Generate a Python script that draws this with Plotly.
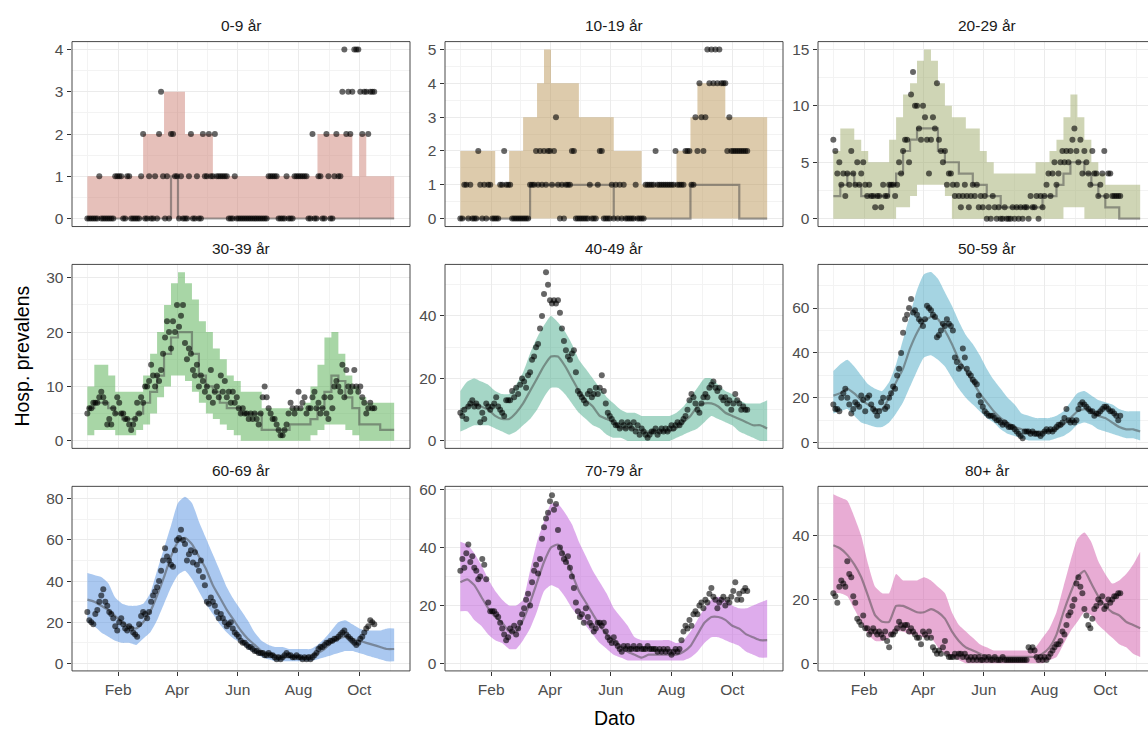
import plotly.graph_objects as go
import pandas as pd

# ---------------- data ----------------
groups = ["0-9 år", "10-19 år", "20-29 år", "30-39 år", "40-49 år",
          "50-59 år", "60-69 år", "70-79 år", "80+ år"]

obs_start = "2022-01-01"   # observations every 2nd day
rib_start = "2022-01-01"   # model ribbon, weekly

obs_00 = [0,0,0,0,0,0,1,0,0,0, 0,0,0,0,1,1,1,1,0,0, 1,1,0,0,0,0,0,1,2,0,
          0,1,0,0,1,0,2,3,1,0, 1,0,2,2,1,1,0,1,0,0, 0,1,2,0,0,1,0,0,2,1,
          1,2,1,1,2,1,1,1,1,1, 1,0,0,0,1,0,0,0,0,0, 0,0,0,0,0,0,0,0,0,0,
          0,1,1,1,1,1,0,0,0,0, 1,0,0,0,1,1,1,1,1,1, 1,0,0,2,0,0,1,1,0,0,
          2,1,0,0,1,2,1,1,3,4, 2,3,2,3,4,4,4,3,2,3, 3,2,3,3,3]
obs_10 = [0,0,1,1,0,1,0,0,0,2, 1,0,1,0,1,1,0,0,0,0, 1,1,2,1,1,1,0,0,0,0,
          0,0,0,0,0,1,1,1,2,1, 2,1,2,1,2,2,1,2,3,1, 0,1,0,1,1,1,2,2,0,0,
          0,0,0,0,0,1,0,0,0,1, 2,2,0,0,0,0,1,0,1,0, 1,0,1,0,0,0,0,0,1,0,
          0,0,0,1,1,1,1,1,2,1, 1,1,1,1,1,1,1,1,2,1, 1,1,1,2,2,2,1,1,3,2,
          4,3,2,3,5,4,5,4,5,4, 5,4,4,4,2,3,2,2,2,2, 2,2,2,2,2]
obs_20 = [7,6,4,5,3,4,2,4,3,6, 4,3,5,3,4,5,3,2,3,2, 2,1,2,2,1,3,2,2,3,3,
          3,2,3,5,4,6,7,7,5,11, 13,10,10,8,7,10,9,7,4,7, 9,8,12,7,6,5,6,3,4,4,
          3,2,3,2,1,2,3,2,1,2, 3,2,3,1,2,1,2,0,1,0, 2,1,0,1,0,0,1,0,0,0,
          1,0,1,0,1,0,1,1,0,2, 1,1,2,0,2,1,2,3,4,2, 4,5,3,4,5,6,5,6,5,6,
          7,8,6,5,7,4,6,5,4,3, 6,4,4,2,3,4,6,2,4,4, 2,2,2,2,2]
obs_30 = [5,6,6,7,7,7,8,9,8,7, 3,4,3,6,5,8,7,5,5,4, 4,3,2,3,4,7,5,8,7,10,
          10,11,14,12,10,12,11,13,16,19, 22,20,17,22,20,25,21,23,25,18,
          15,17,16,13,12,14,10,12,11,9, 10,8,13,7,9,10,8,12,9,11,
          8,9,7,9,7,8,6,5,6,5, 5,4,5,4,5,4,3,5,8,10, 8,6,5,4,4,3,2,1,1,2,
          3,5,7,6,5,6,9,6,7,8, 5,6,6,8,9,6,7,5,6,8, 5,4,8,6,10,11,10,9,14,8,
          13,10,9,10,13,10,9,10,8,7, 5,6,7,6,6]
obs_40 = [9,8,10,7,11,12,13,11,12,11, 6,9,7,12,11,10,11,12,14,11,
          10,9,8,13,13,13,16,14,17,15, 18,20,19,17,21,22,26,27,30,31,
          36,40,47,54,50,45,44,45,44,45, 41,36,32,29,27,26,28,29,22,16,
          15,14,13,12,15,16,14,15,17,15, 17,21,16,12,9,8,7,6,5,5,
          4,6,5,4,6,5,4,6,3,5, 2,4,3,2,1,2,3,3,4,2, 3,4,3,4,3,4,5,4,5,6,
          5,6,7,8,10,13,15,14,12,10, 9,12,14,15,14,17,18,19,17,16,
          17,14,13,14,12,13,10,12,15,13, 12,10,11,10,10]
obs_50 = [17,15,15,14,20,22,24,20,17,13, 15,18,17,16,21,19,14,20,21,17,
          15,14,12,14,18,20,15,16,20,22, 25,24,30,33,40,49,55,57,60,64,
          58,59,57,55,54,52,55,61,60,59, 57,56,47,48,50,53,52,55,53,52,
          50,38,36,33,34,42,38,33,31,30, 28,27,26,21,18,16,14,13,12,12,
          12,11,10,10,9,8,9,8,7,7, 7,6,5,4,3,2,5,5,5,4, 5,4,4,4,3,4,5,6,5,6,
          5,6,7,8,8,9,11,15,10,9, 10,9,10,15,17,18,17,16,15,14,
          14,12,13,13,14,15,16,16,15,14, 14,13,12,10,12]
obs_60 = [25,21,20,19,24,26,30,33,36,30, 28,25,24,22,18,16,20,22,19,17,
          16,18,17,15,14,13,19,23,25,24, 22,25,30,33,35,37,40,45,50,56,
          52,50,48,47,55,60,61,65,60,58, 50,53,55,49,54,48,45,50,42,38,
          30,29,32,30,28,25,22,24,22,20, 18,19,20,17,15,14,13,11,10,10,
          9,8,8,7,6,6,5,5,5,4, 4,5,4,4,3,2,3,2,3,4, 5,4,4,3,3,4,3,3,2,3,
          2,3,2,3,4,5,7,8,8,9, 10,10,11,11,12,12,13,14,15,16,
          14,13,12,11,10,9,10,12,13,15, 17,18,21,20,19]
obs_70 = [32,36,33,38,41,35,37,33,32,29, 30,36,34,29,21,18,18,18,17,16,
          14,12,10,8,9,12,11,13,10,12, 14,17,19,22,24,20,28,32,34,31,
          36,43,47,50,52,56,58,53,55,46, 40,38,36,35,37,33,30,26,21,18,
          16,17,14,19,16,14,13,11,12,14, 14,13,14,11,9,8,7,9,7,6,
          5,4,6,5,6,5,5,6,5,5, 6,5,5,5,6,5,5,5,5,4, 5,4,5,4,5,4,3,4,5,4,
          5,8,11,13,12,15,13,17,18,17, 20,21,19,22,21,24,26,23,22,19,
          21,22,23,20,22,21,23,25,28,22, 24,22,25,26,25]
obs_80 = [22,21,19,24,26,25,24,32,28,27, 21,19,14,13,12,15,11,11,9,10,
          11,10,9,10,9,8,10,7,5,9, 9,10,11,13,12,11,12,12,10,11,
          10,9,8,8,6,10,9,8,10,8, 5,4,3,4,3,5,7,3,2,2, 2,3,2,3,3,2,3,2,1,2,
          1,2,1,2,1,1,2,1,2,1, 1,2,1,1,1,2,1,1,1,1, 1,1,1,1,1,1,1,1,5,4,
          5,4,2,1,2,1,2,1,2,3, 4,5,6,6,7,10,9,12,15,16, 18,20,25,27,24,22,17,15,12,11,
          14,17,18,20,19,21,17,18,20,19, 20,21,21,22,22]

lo_00 = [0,0,0,0,0,0,0,0,0,0, 0,0,0,0,0,0,0,0,0,0, 0,0,0,0,0,0,0,0,0,0, 0,0,0,0,0,0,0,0,0,0, 0,0,0,0,0]
med_00 = [0,0,0,0,0,0,0,0,0,0, 0,0,1,0,0,0,0,0,0,0, 0,0,0,0,0,0,0,0,0,0, 0,0,0,0,0,0,0,0,0,0, 0,0,0,0,0]
hi_00 = [1,1,1,1,1,1,1,1,2,2, 2,3,3,3,2,2,2,2,1,1, 1,1,1,1,1,1,1,1,1,1, 1,1,1,2,2,2,2,2,1,2, 1,1,1,1,1]

lo_10 = [0,0,0,0,0,0,0,0,0,0, 0,0,0,0,0,0,0,0,0,0, 0,0,0,0,0,0,0,0,0,0, 0,0,0,0,0,0,0,0,0,0, 0,0,0,0,0]
med_10 = [0,0,0,0,0,0,0,0,0,0, 1,1,1,1,1,1,1,1,1,1, 1,1,0,0,0,0,0,0,0,0, 0,0,0,1,1,1,1,1,1,1, 0,0,0,0,0]
hi_10 = [2,2,2,2,2,1,1,2,2,3, 3,4,5,4,4,4,4,3,3,3, 3,3,2,2,2,2,1,1,1,1, 1,2,2,3,4,4,4,4,3,3, 3,3,3,3,3]

lo_20 = [0,0,0,0,0,0,0,0,0,1, 1,2,3,3,3,3,2,0,0,0, 0,0,0,0,0,0,0,0,0,0, 0,0,0,1,1,1,0,0,0,0, 0,0,0,0,0]
med_20 = [2,3,4,3,2,2,2,2,3,4, 6,7,8,8,8,6,5,5,4,4, 3,3,2,2,1,1,1,1,1,1, 2,2,3,4,5,5,4,3,2,1, 1,0,0,0,0]
hi_20 = [6,8,8,7,6,5,5,5,7,9, 11,12,14,15,14,12,10,9,9,8, 8,6,5,4,4,4,4,4,4,5, 5,6,7,9,11,9,7,5,4,3, 3,3,3,3,3]

lo_30 = [1,2,2,2,1,1,1,2,3,5, 8,10,12,12,11,9,7,5,4,3, 2,1,0,0,0,0,0,0,0,0, 0,0,1,2,3,3,3,2,1,0, 0,0,0,0,0]
med_30 = [6,7,7,6,5,4,4,5,7,9, 12,16,19,20,20,16,12,10,9,7, 6,6,5,5,5,2,2,2,2,3, 3,3,4,6,9,12,11,8,6,3, 3,3,2,2,2]
hi_30 = [10,14,14,12,9,9,9,9,12,16, 20,25,29,31,29,26,22,20,17,15, 12,11,9,9,9,6,6,6,6,6, 6,7,10,14,19,20,16,12,10,8, 7,7,7,7,8]

lo_40 = [3,4,5,5,5,4,3,2,3,5, 7,10,14,17,17,15,12,9,7,5, 4,2,1,1,0,0,0,0,0,0, 0,1,2,3,4,6,8,7,6,5, 3,2,1,0,0]
med_40 = [10,11,12,11,10,8,7,7,9,12, 16,20,24,27,27,24,20,16,13,11, 8,7,6,4,4,4,3,3,3,3, 3,4,6,8,11,12,12,11,9,8, 7,6,5,5,4]
hi_40 = [16,19,20,19,18,16,15,15,18,22, 28,33,37,40,38,35,31,26,23,20, 17,14,12,10,9,9,8,8,8,8, 8,9,11,14,17,20,20,18,16,15, 13,12,12,12,13]

lo_50 = [13,14,15,12,9,8,7,7,9,13, 18,25,32,38,39,37,34,29,24,20, 17,14,11,9,6,4,3,2,1,1, 1,1,2,3,5,8,9,8,6,5, 4,3,2,2,1]
med_50 = [21,22,24,22,19,17,15,15,20,27, 33,42,49,54,56,55,50,44,37,32, 27,22,18,14,11,9,7,6,5,5, 5,5,6,8,11,14,15,14,12,11, 9,7,6,6,5]
hi_50 = [32,35,37,34,30,26,24,23,27,35, 46,57,68,75,76,73,67,61,54,48, 44,39,33,28,24,20,17,13,12,11, 11,11,12,14,18,22,23,21,19,18, 17,15,14,14,14]

lo_60 = [20,18,15,13,11,10,10,9,12,15, 21,29,37,43,45,41,35,29,24,19, 15,12,10,7,5,3,2,1,1,1, 1,1,1,2,3,4,5,6,6,5, 4,3,2,1,1]
med_60 = [31,30,28,26,23,20,18,17,20,25, 33,42,52,59,61,58,52,46,38,32, 26,21,16,12,9,6,5,4,3,3, 3,3,4,5,7,10,12,13,12,11, 10,9,8,7,7]
hi_60 = [44,43,42,39,32,29,28,28,29,34, 45,56,67,78,81,78,69,61,53,45, 37,31,26,21,15,11,9,8,8,7, 7,7,7,9,12,16,20,21,19,17, 16,16,16,17,17]

lo_70 = [18,18,15,13,10,8,7,5,5,8, 12,18,25,27,26,23,19,16,13,10, 7,5,3,2,1,1,1,1,1,1, 1,1,1,2,4,7,9,9,8,7, 6,4,3,2,2]
med_70 = [28,29,27,23,19,16,14,11,11,15, 21,28,35,40,41,37,31,25,21,17, 13,10,8,6,4,3,2,3,3,3, 3,3,4,6,10,14,16,16,15,13, 12,10,9,8,8]
hi_70 = [42,41,38,34,29,25,22,20,20,22, 32,42,49,55,55,52,48,42,37,32, 28,24,19,16,13,9,8,8,8,8, 8,7,8,11,15,19,22,23,22,20, 19,19,20,21,22]

lo_80 = [22,22,21,17,13,9,7,7,8,10, 10,9,9,8,8,5,3,2,1,0, 0,0,0,0,0,0,0,0,0,0, 0,1,2,6,10,13,16,15,12,10, 8,6,5,3,2]
med_80 = [37,36,34,31,27,21,15,13,13,18, 18,17,16,16,17,16,14,10,7,5, 4,3,2,2,2,2,2,2,2,2, 3,5,9,16,22,27,29,25,21,18, 16,15,13,12,11]
hi_80 = [53,52,51,46,40,31,24,22,22,28, 26,26,26,27,26,24,22,16,12,10, 8,6,5,4,4,4,4,4,4,5, 8,11,16,24,32,39,41,38,32,28, 25,26,28,31,35]

x_tick_dates = ["2022-02-01", "2022-04-01", "2022-06-01", "2022-08-01", "2022-10-01"]
x_tick_labels = ["Feb", "Apr", "Jun", "Aug", "Oct"]
x_minor_dates = ["2022-01-01", "2022-03-02", "2022-05-02", "2022-07-02", "2022-09-01", "2022-11-01"]

# ---------------- styling / layout ----------------
ribbon_rgb = [(205, 129, 117), (187, 151, 89), (159, 171, 107), (81, 173, 77),
              (75, 173, 141), (75, 169, 197), (85, 145, 225), (189, 89, 217),
              (209, 89, 169)]
y_ranges = [(-0.19, 4.19), (-0.234, 5.234), (-0.70, 15.70),
            (-1.4, 32.45), (-2.4, 56.5), (-2.5, 79.4),
            (-3.65, 86.05), (-2.6, 61.1), (-2.4, 55.5)]
y_dtick = [1, 1, 5, 10, 20, 20, 20, 20, 20]
step_shape = [True, True, True, True, False, False, False, False, False]

obs_sets = [obs_00, obs_10, obs_20, obs_30, obs_40, obs_50, obs_60, obs_70, obs_80]
lo_sets = [lo_00, lo_10, lo_20, lo_30, lo_40, lo_50, lo_60, lo_70, lo_80]
med_sets = [med_00, med_10, med_20, med_30, med_40, med_50, med_60, med_70, med_80]
hi_sets = [hi_00, hi_10, hi_20, hi_30, hi_40, hi_50, hi_60, hi_70, hi_80]

W, H = 1148, 729
col_px = [(72, 410), (445, 783), (818, 1156)]
row_px = [(37, 224), (262.3, 448.3), (486.7, 673.3)]
pad_days = 15.4
span_days = 339.3

FONT = "Liberation Sans, Arial, Helvetica, sans-serif"
TICK_FONT = dict(family=FONT, size=15.5, color="#4D4D4D")

t_left = pd.Timestamp(obs_start) - pd.Timedelta(days=pad_days)

fig = go.Figure()
layout = dict(
    width=W, height=H, autosize=False,
    margin=dict(l=0, r=0, t=0, b=0),
    paper_bgcolor="white", plot_bgcolor="white",
    showlegend=False, shapes=[], annotations=[],
)

for i, name in enumerate(groups):
    r, c = divmod(i, 3)
    k = "" if i == 0 else str(i + 1)
    xa, ya = "x" + k, "y" + k
    obs = obs_sets[i]
    obs_x = pd.date_range(obs_start, periods=len(obs), freq="2D")
    rib_x = pd.date_range(rib_start, periods=len(hi_sets[i]), freq="7D")
    shape = "hv" if step_shape[i] else "spline"
    rgb = ribbon_rgb[i]
    fill = "rgba(%d,%d,%d,0.5)" % rgb

    fig.add_trace(go.Scatter(x=rib_x, y=lo_sets[i], mode="lines",
                             line=dict(width=0, shape=shape, smoothing=0.5),
                             xaxis=xa, yaxis=ya, hoverinfo="skip"))
    fig.add_trace(go.Scatter(x=rib_x, y=hi_sets[i], mode="lines", fill="tonexty",
                             fillcolor=fill,
                             line=dict(width=0, shape=shape, smoothing=0.5),
                             xaxis=xa, yaxis=ya, hoverinfo="skip"))
    fig.add_trace(go.Scatter(x=rib_x, y=med_sets[i], mode="lines",
                             line=dict(width=2.2, color="rgba(70,70,70,0.5)",
                                       shape=shape, smoothing=0.5),
                             xaxis=xa, yaxis=ya))
    fig.add_trace(go.Scatter(x=obs_x, y=obs, mode="markers",
                             marker=dict(size=6, color="rgba(0,0,0,0.6)",
                                         line=dict(width=0)),
                             xaxis=xa, yaxis=ya))

    x0p, x1p = col_px[c]
    y0p, y1p = row_px[r]
    vis_right = min(x1p, W)
    frac = (vis_right - x0p) / (x1p - x0p)
    t_right = t_left + pd.Timedelta(days=span_days * frac)

    bottom = (r == 2)
    layout["xaxis" + k] = dict(
        domain=[x0p / W, vis_right / W], anchor=ya, type="date",
        range=[t_left, t_right],
        tickmode="array", tickvals=x_tick_dates, ticktext=x_tick_labels,
        showticklabels=bottom, ticks="outside" if bottom else "",
        ticklen=4.5, tickwidth=1, tickcolor="#333333",
        tickfont=TICK_FONT,
        showgrid=True, gridcolor="#EBEBEB", gridwidth=1.1,
        minor=dict(tickmode="array", tickvals=x_minor_dates, showgrid=True,
                   gridcolor="#F3F3F3", gridwidth=0.6),
        zeroline=False, showline=False, fixedrange=True,
    )
    layout["yaxis" + k] = dict(
        domain=[1 - y1p / H, 1 - y0p / H], anchor=xa,
        range=list(y_ranges[i]),
        tickmode="linear", tick0=0, dtick=y_dtick[i],
        ticks="outside", ticklen=4.5, tickwidth=1, tickcolor="#333333",
        tickfont=TICK_FONT,
        showgrid=True, gridcolor="#EBEBEB", gridwidth=1.1,
        minor=dict(tickmode="linear", tick0=0, dtick=y_dtick[i] / 2,
                   showgrid=True, gridcolor="#F3F3F3", gridwidth=0.6),
        zeroline=False, showline=False, fixedrange=True,
    )
    layout["shapes"].append(dict(
        type="rect", xref="paper", yref="paper",
        x0=x0p / W, x1=x1p / W, y0=1 - y1p / H, y1=1 - y0p / H,
        line=dict(color="#333333", width=0.9), fillcolor="rgba(0,0,0,0)",
        layer="above"))
    layout["annotations"].append(dict(
        text=name, xref="paper", yref="paper",
        x=((x0p + x1p) / 2) / W, y=1 - (y0p - 16.5) / H,
        xanchor="center", yanchor="middle", showarrow=False,
        font=dict(family=FONT, size=15.5, color="#1A1A1A")))

layout["annotations"].append(dict(
    text="Dato", xref="paper", yref="paper", x=614 / W, y=1 - 720.5 / H,
    xanchor="center", yanchor="middle", showarrow=False,
    font=dict(family=FONT, size=19.5, color="black")))
layout["annotations"].append(dict(
    text="Hosp. prevalens", xref="paper", yref="paper", x=22.5 / W, y=1 - 355 / H,
    xanchor="center", yanchor="middle", showarrow=False, textangle=-90,
    font=dict(family=FONT, size=19.5, color="black")))

fig.update_layout(**layout)
fig.write_html("out.html")
